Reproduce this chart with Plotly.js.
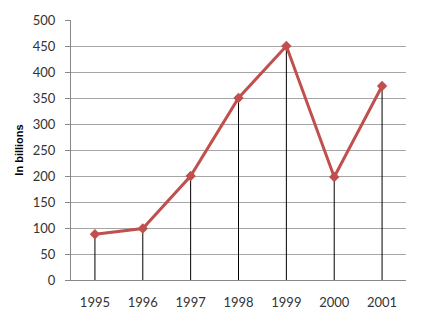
<!DOCTYPE html>
<html>
<head>
<meta charset="utf-8">
<script src="https://cdn.plot.ly/plotly-3.0.1.min.js"></script>
<style>html,body{margin:0;padding:0;background:#fff;}#chart{width:439px;height:321px;}</style>
</head>
<body>
<div id="chart"></div>
<script>
const years = ['1995','1996','1997','1998','1999','2000','2001'];
const values = [88, 99, 200, 350, 450, 198, 373];
const yTicks = [0,50,100,150,200,250,300,350,400,450,500];

const trace = {
  x: years,
  y: values,
  type: 'scatter',
  mode: 'lines+markers',
  line: {color: '#c0504d', width: 3},
  marker: {symbol: 'diamond', size: 8, color: '#c0504d'},
  error_y: {type: 'data', symmetric: false, array: values.map(()=>0), arrayminus: values, width: 0, color: '#000', thickness: 1},
  hoverinfo: 'none'
};

const layout = {
  width: 439, height: 321,
  margin: {l: 71, r: 33, t: 20, b: 41},
  paper_bgcolor: '#fff', plot_bgcolor: '#fff',
  showlegend: false,
  font: {family: 'Lato, Liberation Sans, Arial, sans-serif', size: 13, color: '#333'},
  xaxis: {
    type: 'category', range: [-0.5, 6.5],
    showgrid: false, zeroline: false,
    showline: true, linecolor: '#888', linewidth: 1,
    ticks: '', tickfont: {size: 13, color: '#333'}, ticklabelstandoff: 10
  },
  yaxis: {
    range: [0, 500], tickvals: yTicks, ticktext: yTicks.map(String),
    showgrid: true, gridcolor: '#a6a6a6', gridwidth: 1,
    zeroline: false, showline: true, linecolor: '#888', linewidth: 1,
    ticks: 'outside', ticklen: 5, tickcolor: '#888',
    tickfont: {size: 13, color: '#333'}, ticklabelstandoff: 7,
    title: {text: '<b>In billions</b>', font: {family: 'Liberation Sans, Arial, sans-serif', size: 11, color: '#000'}, standoff: 6}
  }
};
Plotly.newPlot('chart', [trace], layout, {staticPlot: true, displayModeBar: false});
</script>
</body>
</html>
